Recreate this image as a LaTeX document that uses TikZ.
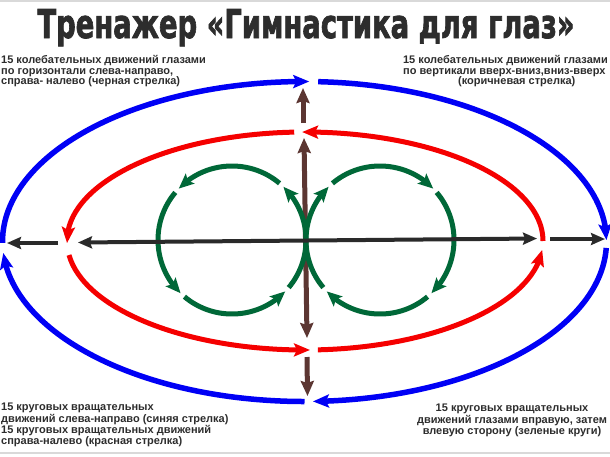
\documentclass[tikz,border=0pt]{standalone}
\usepackage{graphicx}
\usepackage{fontspec}
\setmainfont{Liberation Sans}
\newfontfamily\titlefont{DejaVu Sans Condensed}[FakeBold=2]
\usetikzlibrary{arrows.meta,bending}
\definecolor{eblue}{RGB}{0,0,245}
\definecolor{ered}{RGB}{245,0,0}
\definecolor{egreen}{RGB}{0,104,56}
\definecolor{ebrown}{RGB}{92,54,50}
\definecolor{eblack}{RGB}{42,42,42}
\definecolor{etext}{RGB}{45,45,45}
\newcommand\ellarc[6]{\draw[#1] (#2) ++(#5:#3 and #4) arc[start angle=#5, end angle=#6, x radius=#3, y radius=#4];}
\tikzset{
  bluearc/.style={draw=eblue, line width=5.5pt, -{Stealth[length=16pt,width=13pt,inset=3pt]}},
  redarc/.style={draw=ered, line width=5pt, -{Stealth[length=16pt,width=13pt,inset=3pt]}},
  greenarc/.style={draw=egreen, line width=5pt, -{Stealth[length=15pt,width=13pt,inset=3pt]}},
  brownarrow/.style={draw=ebrown, line width=5pt, -{Stealth[length=15pt,width=13pt,inset=2pt]}},
  brownboth/.style={draw=ebrown, line width=5pt, {Stealth[length=15pt,width=13pt,inset=2pt]}-{Stealth[length=15pt,width=13pt,inset=2pt]}},
  blackarrow/.style={draw=eblack, line width=4pt, -{Stealth[length=14pt,width=12pt,inset=2pt]}},
  blackboth/.style={draw=eblack, line width=4pt, {Stealth[length=14pt,width=12pt,inset=2pt]}-{Stealth[length=14pt,width=12pt,inset=2pt]}},
  txt/.style={inner sep=0pt, text=etext, font=\bfseries\fontsize{11}{10.7}\selectfont},
}
\begin{document}
\begin{tikzpicture}[x=1pt,y=-1pt]
\useasboundingbox (0,0) rectangle (610,456);
\clip (0,0) rectangle (610,456);
\fill[white] (0,0) rectangle (610,456);
\draw[gray!30, line width=2pt] (0,1) -- (610,1);
\draw[gray!30, line width=1.5pt] (0,453) -- (610,453);

% title
\node[anchor=base, inner sep=0pt, text=etext] (title) at (306,38)
  {\resizebox{537pt}{29pt}{\titlefont\bfseries Тренажер «Гимнастика для глаз»}};

% centres
\coordinate (bc) at (304.5,241.5);
\coordinate (rc) at (305,241);
\coordinate (gl) at (232,240);
\coordinate (gr) at (380,240);

% blue ellipse (clockwise)
\ellarc{bluearc}{bc}{302}{160}{179.5}{270.9}
\ellarc{bluearc}{bc}{302}{160}{272.6}{359.5}
\ellarc{bluearc}{bc}{302}{160}{2.3}{88.4}
\ellarc{bluearc}{bc}{302}{160}{90}{175.9}

% red ellipse (counter-clockwise)
\ellarc{redarc}{rc}{238}{109}{360}{269.3}
\ellarc{redarc}{rc}{238}{109}{267.4}{178.9}
\ellarc{redarc}{rc}{238}{109}{172.6}{88.8}
\ellarc{redarc}{rc}{238}{109}{86.9}{4.7}

% brown vertical arrows
\coordinate (uT1) at (303,123); \coordinate (uT2) at (303,88);
\coordinate (uM1) at (304,138); \coordinate (uM2) at (307,338);
\coordinate (uB1) at (307,357); \coordinate (uB2) at (307.5,396);
\draw[brownarrow] (uT1) -- (uT2);
\draw[brownboth] (uM1) -- (uM2);
\draw[brownarrow] (uB1) -- (uB2);

% green circles
\foreach \k in {0,1,2,3}{
  \ellarc{greenarc}{gl}{74}{74}{40-90*\k}{-46-90*\k}
  \ellarc{greenarc}{gr}{74}{74}{140+90*\k}{226+90*\k}
}

% black horizontal arrows
\coordinate (kL1) at (58,243); \coordinate (kL2) at (7,243);
\coordinate (kR1) at (550,239); \coordinate (kR2) at (605,239);
\coordinate (kI1) at (78,242.5); \coordinate (kI2) at (537,238.5);
\draw[blackarrow] (kL1) -- (kL2);
\draw[blackarrow] (kR1) -- (kR2);
\draw[blackboth] (kI1) -- (kI2);

% texts
\node[txt, anchor=north west, align=left] (tl) at (1,55)
  {15 колебательных движений глазами\\по горизонтали слева-направо,\\справа- налево (черная стрелка)};
\node[txt, anchor=north east, align=left] (tr) at (608,55)
  {15 колебательных движений глазами\\по вертикали вверх-вниз,вниз-вверх\\\hspace*{55pt}(коричневая стрелка)};
\node[txt, anchor=north west, align=left, font=\bfseries\fontsize{11}{10.2}\selectfont] (bl) at (1,403)
  {15 круговых вращательных\\движений слева-направо (синяя стрелка)\\15 круговых вращательных движений\\справа-налево (красная стрелка)};
\node[txt, anchor=north, align=center, font=\bfseries\fontsize{11}{9.7}\selectfont] (br) at (512,403.8)
  {15 круговых вращательных\\движений глазами вправую, затем\\влевую сторону (зеленые круги)};
\end{tikzpicture}
\end{document}
